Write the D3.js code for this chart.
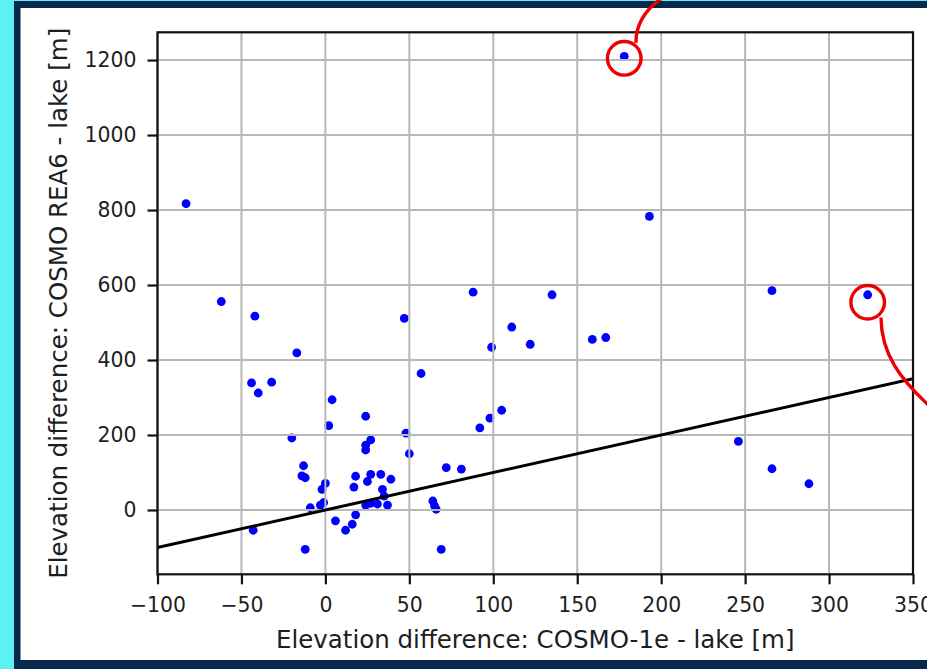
<!DOCTYPE html>
<html>
<head>
  <meta charset="utf-8">
  <title>Elevation difference: COSMO-1e vs COSMO REA6</title>
  <script src="https://cdn.jsdelivr.net/npm/d3@7"></script>
  <style>
    body { margin: 0; background: #5ef0f7; }
    svg { display: block; }
    text { font-family: "DejaVu Sans", sans-serif; fill: #1e1e1e; }
  </style>
</head>
<body>
<script>
  // values (metres)
  var cosmo1e = [178, 193, -83, -62, -42, 47, 88, -17, 57, 99, 135, 111, 122, 159, 167,
                 105, 98, 92, 72, 81, 246, 266, 323, 266, 288, -44, -40, -32, 4, 2,
                 -20, -13, -14, -12, 0, -2, -1, -3, -9, -43, -12, 6, 12, 16, 18,
                 18, 17, 24, 27, 24, 24, 48, 50, 27, 25, 33, 39, 34, 35, 27,
                 31, 37, 24, 64, 65, 66, 69];
  var rea6 = [1210, 783, 817, 556, 517, 511, 581, 419, 364, 434, 574, 488, 442, 455, 460,
              266, 245, 219, 113, 109, 183, 585, 574, 110, 70, 339, 312, 341, 294, 225,
              192, 118, 91, 86, 71, 55, 20, 13, 6, -54, -105, -29, -54, -38, -13,
              90, 61, 250, 187, 173, 160, 205, 150, 95, 76, 95, 82, 55, 37, 18,
              16, 13, 13, 24, 11, 2, -105];
  var xTicks = [-100, -50, 0, 50, 100, 150, 200, 250, 300, 350];
  var yTicks = [0, 200, 400, 600, 800, 1000, 1200];
  var oneToOne = [-100, 350];      // y = x reference line
  var circled = [0, 22];           // points marked with red rings

  var W = 927, H = 669;
  var margin = { top: 32.3, right: 14, bottom: 94.7, left: 157.5 },
      width = W - margin.left - margin.right,
      height = H - margin.top - margin.bottom;

  var x = d3.scaleLinear().domain([-100, 350]).range([0, width]);
  var y = d3.scaleLinear().domain([-171.5, 1274]).range([height, 0]);

  var svg = d3.select("body").append("svg")
      .attr("width", W)
      .attr("height", H);

  // frame: navy border and white card
  svg.append("rect").attr("x", 14).attr("y", 1).attr("width", W).attr("height", H)
      .attr("fill", "#05284b");
  svg.append("rect").attr("x", 20.5).attr("y", 8).attr("width", W).attr("height", 652)
      .attr("fill", "#ffffff");

  var g = svg.append("g")
      .attr("transform", "translate(" + margin.left + "," + margin.top + ")");

  g.append("clipPath").attr("id", "plot-clip")
    .append("rect").attr("width", width).attr("height", height);

  // scatter points
  g.append("g").selectAll("circle")
      .data(cosmo1e)
      .enter().append("circle")
      .attr("cx", function(d) { return x(d); })
      .attr("cy", function(d, i) { return y(rea6[i]); })
      .attr("r", 4.4)
      .attr("fill", "#0000ff");

  // grid (drawn on top of the points, as in the picture)
  g.append("g").selectAll("line")
      .data(xTicks)
      .enter().append("line")
      .attr("x1", function(d) { return x(d); })
      .attr("x2", function(d) { return x(d); })
      .attr("y1", 0).attr("y2", height)
      .attr("stroke", "#b8b8b8").attr("stroke-width", 2);
  g.append("g").selectAll("line")
      .data(yTicks)
      .enter().append("line")
      .attr("y1", function(d) { return y(d); })
      .attr("y2", function(d) { return y(d); })
      .attr("x1", 0).attr("x2", width)
      .attr("stroke", "#b8b8b8").attr("stroke-width", 2);

  // 1:1 line
  g.append("path")
      .datum(oneToOne)
      .attr("clip-path", "url(#plot-clip)")
      .attr("fill", "none")
      .attr("stroke", "#000")
      .attr("stroke-width", 3)
      .attr("d", d3.line().x(function(d) { return x(d); }).y(function(d) { return y(d); }));

  // axes
  var x_axis = d3.axisBottom(x).tickValues(xTicks).tickSize(10).tickPadding(13)
      .tickFormat(function(d) { return d < 0 ? "\u2212" + Math.abs(d) : String(d); });
  var y_axis = d3.axisLeft(y).tickValues(yTicks).tickSize(10).tickPadding(11)
      .tickFormat(d3.format("d"));

  var gx = g.append("g")
      .attr("transform", "translate(0," + height + ")")
      .call(x_axis);
  var gy = g.append("g").call(y_axis);

  [gx, gy].forEach(function(a) {
    a.select(".domain").remove();
    a.selectAll(".tick line").attr("stroke", "#111").attr("stroke-width", 2.2);
    a.selectAll(".tick text")
        .style("font-family", "DejaVu Sans")
        .style("font-size", "20.4px")
        .attr("fill", "#1e1e1e");
  });

  // spines
  g.append("rect")
      .attr("width", width).attr("height", height)
      .attr("fill", "none")
      .attr("stroke", "#111")
      .attr("stroke-width", 2.2);

  // axis labels
  g.append("text")
      .attr("x", width / 2)
      .attr("y", 648 - margin.top)
      .attr("text-anchor", "middle")
      .style("font-size", "24.5px")
      .text("Elevation difference: COSMO-1e - lake [m]");

  g.append("text")
      .attr("transform", "translate(" + (67 - margin.left) + "," + (height / 2) + ") rotate(-90)")
      .attr("text-anchor", "middle")
      .style("font-size", "24.5px")
      .text("Elevation difference: COSMO REA6 - lake [m]");

  // red rings + leader curves
  var ringOffset = [2, 7.5];
  var leaders = [
    function(cx, cy) { return "M" + (cx + 11.7) + "," + (cy - 15.5) +
        " C" + (cx + 11.5) + "," + (cy - 35) + " " + (cx + 22) + "," + (cy - 50) + " " + (cx + 40) + "," + (cy - 62); },
    function(cx, cy) { return "M" + (cx + 13.3) + "," + (cy + 15.3) +
        " C" + (cx + 13.5) + "," + (cy + 52) + " " + (cx + 33) + "," + (cy + 77) + " " + (cx + 62) + "," + (cy + 104); }
  ];
  circled.forEach(function(idx, k) {
    var cx = margin.left + x(cosmo1e[idx]);
    var cy = margin.top + y(rea6[idx]) + ringOffset[k];
    svg.append("circle")
        .attr("cx", cx).attr("cy", cy).attr("r", 16.8)
        .attr("fill", "none").attr("stroke", "#ee0000").attr("stroke-width", 3.4);
    svg.append("path")
        .attr("d", leaders[k](cx, cy))
        .attr("fill", "none").attr("stroke", "#ee0000").attr("stroke-width", 3.4);
  });
</script>
</body>
</html>
